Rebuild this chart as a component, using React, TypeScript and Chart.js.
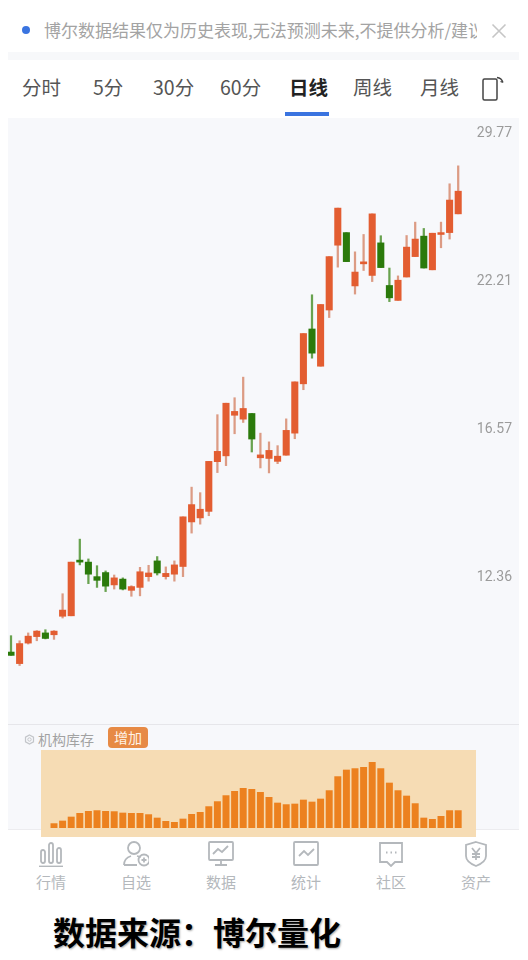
import React, { useEffect, useRef } from "react";
import { Chart, registerables } from "chart.js";

Chart.register(...registerables);

const opens = [10.63,10.39,10.82,10.96,11.04,11.00,11.41,11.42,12.75,12.70,12.34,12.44,12.14,12.28,12.01,12.08,12.34,12.73,12.34,12.40,12.59,13.75,13.86,14.04,15.49,15.67,16.98,16.85,17.04,15.61,15.59,15.50,15.69,16.39,18.07,20.14,18.71,20.91,23.77,24.37,21.93,22.91,22.39,23.88,21.95,21.31,22.32,23.24,24.20,22.64,24.28,24.37,25.29];
const closes = [10.56,10.81,10.97,11.08,10.92,11.08,11.55,12.70,12.70,12.40,12.25,12.11,12.31,12.04,12.10,12.46,12.43,12.43,12.42,12.63,13.89,14.23,14.10,15.50,15.81,17.39,17.11,17.21,16.20,15.70,15.84,15.66,16.48,18.14,19.96,19.20,21.14,23.24,25.58,23.01,22.54,23.00,25.29,22.74,21.42,22.18,23.68,24.06,22.72,24.34,24.37,25.99,26.45];
const lows = [10.56,10.35,10.80,10.87,10.91,10.90,11.37,11.42,12.63,12.17,12.08,11.98,12.04,12.02,11.87,11.88,12.23,12.38,12.28,12.23,12.34,13.45,13.69,13.92,15.16,15.37,16.37,16.74,15.79,15.30,15.15,15.43,15.69,16.21,17.86,19.01,18.71,20.60,22.76,23.01,21.58,22.61,22.12,22.74,21.26,21.31,22.32,23.24,22.72,22.64,23.65,24.06,25.29];
const highs = [10.98,10.87,11.04,11.09,11.11,11.09,11.93,12.70,13.29,12.78,12.61,12.48,12.38,12.31,12.12,12.57,12.62,12.84,12.58,12.73,13.89,14.73,14.57,15.50,17.00,17.39,17.58,18.31,17.04,16.39,16.11,15.99,16.86,18.14,19.96,21.55,21.14,23.24,25.58,24.37,23.46,24.28,25.29,24.22,22.72,22.37,24.23,24.88,24.57,24.34,24.88,26.84,27.81];
const priceTicks = [12.36, 16.57, 22.21, 29.77];
const inventory = [4.4,7,11,14.7,16.7,17.4,16.7,16.4,15,14.7,14.7,13.4,10,6.7,5.7,9,13.7,15.7,21.4,26.4,32.4,36.7,39.7,38.7,35.7,30.7,25,23.4,24,28,26,29,37.4,51.4,58,59.4,60.7,65.7,59.4,45,37.4,32,24.4,10,8.7,11.7,17.4,17.4];
const inventoryStart = 5;
const tabs = [
  { label: "分时", x: 22 },
  { label: "5分", x: 93 },
  { label: "30分", x: 153 },
  { label: "60分", x: 220 },
  { label: "日线", x: 289, active: true },
  { label: "周线", x: 353 },
  { label: "月线", x: 420 },
];
const navLabels = ["行情", "自选", "数据", "统计", "社区", "资产"];

const RED = "#e35d31";
const GREEN = "#2b7a0b";
const RED_WICK = "#dc9b84";
const GREEN_WICK = "#68a24f";
const CJK = '"Noto Sans CJK SC", sans-serif';
const X_MIN = -0.349;
const X_MAX = 59.07;

const abs = (s: React.CSSProperties): React.CSSProperties => ({ position: "absolute", ...s });

function NavIcon({ i }: { i: number }) {
  const st = { fill: "none", stroke: "#b4b8bc", strokeWidth: 1.8 } as const;
  const shapes = [
    <g {...st} key="0">
      <rect x="3" y="9" width="4" height="13" rx="2" />
      <rect x="11" y="2" width="4" height="20" rx="2" />
      <rect x="19" y="7" width="4" height="15" rx="2" />
      <path d="M1 25.5H25" />
    </g>,
    <g {...st} key="1">
      <circle cx="11" cy="7" r="6" />
      <path d="M1 24c0-6 4-8 7-9M14 15l4 1M1 24h13" />
      <circle cx="21" cy="19" r="5.5" />
      <path d="M21 16.5v5M18.5 19h5" />
    </g>,
    <g {...st} key="2">
      <rect x="1" y="1" width="24" height="18" rx="1" />
      <path d="M5 13l5-5 4 3 6-6M13 19v4M7 24h12" />
    </g>,
    <g {...st} key="3">
      <rect x="1" y="1" width="24" height="23" rx="1" />
      <path d="M6 15l5-5 4 4 6-6" />
    </g>,
    <g {...st} key="4">
      <path d="M2 2h22v19h-7l-4 4-4-4H2z" />
      <path d="M8 11.5h1.5M12.5 11.5H14M17 11.5h1.5" strokeWidth="2" />
    </g>,
    <g {...st} key="5">
      <path d="M13 1l10 3v11c0 5-5 8-10 10C8 23 3 20 3 15V4z" />
      <path d="M9 7l4 5 4-5M13 12v7M9 13h8M9 16h8" />
    </g>,
  ];
  return (
    <svg width="26" height="26" viewBox="0 0 26 26" style={{ display: "block" }}>
      {shapes[i]}
    </svg>
  );
}

export default function App() {
  const candleRef = useRef<HTMLCanvasElement>(null);
  const barRef = useRef<HTMLCanvasElement>(null);

  useEffect(() => {
    const up = (i: number) => closes[i] >= opens[i];
    const candle = new Chart(candleRef.current!, {
      type: "bar",
      data: {
        datasets: [
          {
            data: opens.map((o, i) => ({ x: i, y: [o, closes[i]] })) as any,
            backgroundColor: opens.map((_, i) => (up(i) ? RED : GREEN)),
            barThickness: 6.4,
            grouped: false,
          } as any,
          {
            data: lows.map((l, i) => ({ x: i, y: [l, highs[i]] })) as any,
            backgroundColor: opens.map((_, i) => (up(i) ? RED_WICK : GREEN_WICK)),
            barThickness: 1.6,
            grouped: false,
          } as any,
        ],
      },
      options: {
        responsive: false,
        animation: false,
        layout: { padding: 0 },
        plugins: { legend: { display: false }, tooltip: { enabled: false } },
        scales: {
          x: { type: "linear", offset: false, min: X_MIN, max: X_MAX, display: false },
          y: {
            type: "logarithmic",
            position: "right",
            bounds: "data",
            min: 9.22,
            max: 30.57,
            grid: { display: false, drawTicks: false },
            border: { display: false },
            afterBuildTicks: (s: any) => {
              s.ticks = priceTicks.map((value) => ({ value }));
            },
            afterFit: (s: any) => {
              s.width = 0;
              s.paddingTop = 0;
              s.paddingBottom = 0;
              s.paddingLeft = 0;
              s.paddingRight = 0;
            },
            ticks: {
              mirror: true,
              padding: -7,
              labelOffset: 2,
              autoSkip: false,
              color: "#9b9b9b",
              font: { family: "Roboto", size: 14 },
              callback: (v: any) => Number(v).toFixed(2),
            },
          },
        },
      },
    } as any);
    const bars = new Chart(barRef.current!, {
      type: "bar",
      data: {
        datasets: [
          {
            data: inventory.map((v, i) => ({ x: i + inventoryStart, y: v })),
            backgroundColor: "#ec811f",
            barThickness: 6.3,
          },
        ],
      },
      options: {
        responsive: false,
        animation: false,
        layout: { padding: 0 },
        plugins: { legend: { display: false }, tooltip: { enabled: false } },
        scales: {
          x: { type: "linear", offset: false, min: X_MIN, max: X_MAX, display: false },
          y: { min: 0, max: 78, display: false },
        },
      },
    } as any);
    return () => {
      candle.destroy();
      bars.destroy();
    };
  }, []);

  return (
    <div style={abs({ left: 0, top: 0, width: 528, height: 960, overflow: "hidden", background: "#fff", fontFamily: CJK })}>
      <div style={abs({ left: 22, top: 26, width: 8, height: 8, borderRadius: 4, background: "#3a74e0" })} />
      <div style={abs({ left: 44, top: 17, width: 433, height: 26, lineHeight: "26px", fontSize: 17, color: "#a3a3a3", whiteSpace: "nowrap", overflow: "hidden" })}>
        博尔数据结果仅为历史表现,无法预测未来,不提供分析/建议
      </div>
      <svg width="16" height="16" style={abs({ left: 491, top: 23 })}>
        <path d="M1.5 1.5L14.5 14.5M14.5 1.5L1.5 14.5" stroke="#c6c6c6" strokeWidth="1.6" fill="none" />
      </svg>
      <div style={abs({ left: 8, top: 52, width: 511, height: 8, background: "#f7f8fa" })} />
      {tabs.map((t) => (
        <div
          key={t.label}
          style={abs({
            left: t.x,
            top: 73,
            height: 28,
            lineHeight: "28px",
            fontSize: 19.5,
            whiteSpace: "nowrap",
            color: t.active ? "#222" : "#555",
            fontWeight: t.active ? 700 : 400,
          })}
        >
          {t.label}
        </div>
      ))}
      <div style={abs({ left: 285, top: 112, width: 44, height: 4, background: "#3a74e0" })} />
      <svg width="26" height="28" style={abs({ left: 481, top: 75 })}>
        <rect x="2" y="4" width="14" height="21" rx="1.5" fill="none" stroke="#444" strokeWidth="1.5" />
        <path d="M16 2.5c3 .3 5 2 6 5M22 7.5l-2.5-1" fill="none" stroke="#444" strokeWidth="1.3" />
      </svg>

      <div style={abs({ left: 8, top: 118, width: 511, height: 712, background: "#f7f8fb" })} />
      <div style={abs({ left: 8, top: 724, width: 511, height: 1, background: "#e6e6ea" })} />
      <div style={abs({ left: 8, top: 829, width: 511, height: 1, background: "#ececef" })} />
      <canvas ref={candleRef} width={511} height={606} style={abs({ left: 8, top: 118, display: "block" })} />

      <svg width="11" height="11" style={abs({ left: 24, top: 734 })}>
        <path d="M5.5 1l4 2.2v4.6l-4 2.2-4-2.2V3.2z" fill="none" stroke="#c3c6ca" strokeWidth="1.2" />
        <circle cx="5.5" cy="5.5" r="1.7" fill="none" stroke="#c3c6ca" strokeWidth="1" />
      </svg>
      <div style={abs({ left: 38, top: 729, height: 20, lineHeight: "20px", fontSize: 14, color: "#a2a2a2", whiteSpace: "nowrap" })}>机构库存</div>
      <div style={abs({ left: 108, top: 727, width: 40, height: 21, lineHeight: "21px", textAlign: "center", fontSize: 14, color: "#fff3e6", background: "#e78a45", borderRadius: 4 })}>增加</div>

      <div style={abs({ left: 41, top: 750, width: 435, height: 87, background: "#f6dcb4" })} />
      <canvas ref={barRef} width={511} height={78} style={abs({ left: 8, top: 750, display: "block" })} />

      {navLabels.map((l, i) => (
        <React.Fragment key={l}>
          <div style={abs({ left: 51 + i * 85 - 13, top: 841 })}>
            <NavIcon i={i} />
          </div>
          <div style={abs({ left: 51 + i * 85 - 30, top: 872, width: 60, height: 20, lineHeight: "20px", textAlign: "center", fontSize: 15, color: "#b4b8bc" })}>{l}</div>
        </React.Fragment>
      ))}

      <div style={abs({ left: 53, top: 909, height: 44, lineHeight: "44px", fontSize: 32, fontWeight: 700, color: "#000", whiteSpace: "nowrap", textShadow: "1px 1px 2px rgba(0,0,0,0.35)" })}>
        数据来源：博尔量化
      </div>
    </div>
  );
}
